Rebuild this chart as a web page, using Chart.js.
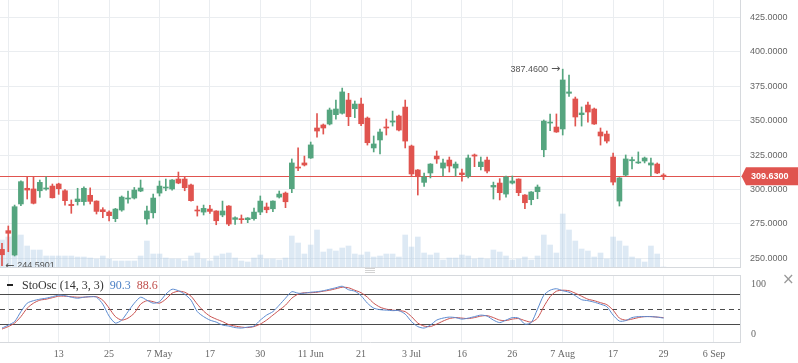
<!DOCTYPE html>
<html><head><meta charset="utf-8">
<script src="https://cdn.jsdelivr.net/npm/chart.js@4/dist/chart.umd.min.js"></script>
<style>
html,body{margin:0;padding:0;background:#fff;width:798px;height:363px;overflow:hidden;}
body{position:relative;}
#c1{position:absolute;left:0;top:0;}
#c2{position:absolute;left:0;top:270px;}
.lgline{position:absolute;left:7px;top:284px;width:6px;height:2px;background:#222;}
.lg{position:absolute;left:22px;top:277px;font:12px "Liberation Serif",serif;color:#333;white-space:nowrap;line-height:16px;}
.lg .k{color:#4a7fc4;margin-left:6px;}
.lg .d{color:#c0504d;margin-left:6px;}
.hd{position:absolute;left:365px;width:10px;height:1px;background:#d3d3d3;}
.cls{position:absolute;left:782px;top:272px;font:15px "DejaVu Sans",sans-serif;color:#999;line-height:15px;}
</style></head><body>
<canvas id="c1" width="798" height="268"></canvas>
<canvas id="c2" width="798" height="93"></canvas>
<div class="hd" style="top:268px"></div>
<div class="hd" style="top:270px"></div>
<div class="hd" style="top:272px"></div>
<div class="lgline"></div>
<div class="lg">StoOsc (14, 3, 3)<span class="k">90.3</span><span class="d">88.6</span></div>
<div class="cls">×</div>
<script>
// x tick positions (bar index) and their labels
const tickIdx = [1,9,17,25,33,41,49,57,65,73,81,89,97,105,113];
const tickLabels = ['','13','25','7 May','17','30','11 Jun','21','3 Jul','16','26','7 Aug','17','29','6 Sep'];
const priceTicks = [250,275,300,325,350,375,400,425];
const stochTicks = [0,100];
const stochLevels = [20,50,80];

const open = [256.5,270.1,252.4,289.5,300.9,300.4,299.1,300.4,302.5,304.0,299.1,289.2,291.2,291.2,295.8,291.6,285.3,283.6,
278.8,285.1,293.1,293.8,298.9,278.6,283.1,297.4,301.1,300.4,307.6,307.6,303.3,285.1,283.6,285.8,284.4,281.5,
288.0,278.3,278.8,278.1,278.8,283.6,287.3,286.0,294.5,297.4,300.6,316.3,319.3,322.9,344.7,346.9,347.6,
354.4,355.4,365.0,358.7,362.1,351.9,330.2,336.0,345.4,349.0,353.4,359.9,331.6,314.2,305.2,312.0,324.3,
315.6,321.4,315.6,312.0,309.6,325.1,316.6,321.4,301.8,304.7,296.7,304.7,307.6,296.0,292.6,298.4,328.9,348.3,
345.4,344.0,369.9,365.8,354.4,361.4,358.5,341.8,340.3,323.6,291.6,310.5,320.9,319.3,320.7,317.8,318.5,310.5];
const high = [260.9,273.5,288.7,306.4,309.3,309.3,306.9,309.3,304.0,304.6,300.0,292.4,300.9,302.0,301.2,291.8,286.8,284.5,
286.3,295.3,298.9,301.5,306.9,288.0,296.7,306.2,307.6,307.3,312.7,309.1,304.0,288.0,288.7,288.5,284.6,291.6,
288.3,280.2,281.5,279.6,286.6,295.3,290.2,291.8,298.9,298.2,322.2,330.2,324.3,334.5,355.1,347.6,359.2,
365.0,373.7,369.9,364.3,366.5,352.7,338.9,344.0,351.2,357.0,354.1,365.0,332.3,314.5,312.0,318.8,328.0,
322.2,323.6,320.0,314.9,325.1,325.8,323.6,323.6,305.4,307.9,309.8,309.8,307.8,296.3,298.5,303.3,350.5,354.9,
354.9,387.46,383.2,367.2,360.0,363.6,359.2,344.7,342.5,326.5,308.7,325.1,323.6,327.3,323.6,322.9,319.3,311.5];
const low = [244.5901,254.8,251.7,288.2,293.1,289.5,294.3,299.6,293.8,296.5,288.7,282.7,288.7,288.7,289.5,282.2,279.5,277.1,
276.6,284.2,290.0,293.1,298.4,274.9,279.3,295.3,299.1,299.6,304.2,299.1,291.5,280.7,281.5,282.7,274.4,280.2,
273.7,274.7,275.4,275.9,277.8,281.7,283.1,283.9,293.8,286.8,297.7,313.7,317.1,322.6,338.1,340.3,346.9,
351.2,354.8,346.4,352.2,346.4,332.3,327.3,325.8,339.6,346.1,342.5,330.2,309.8,296.0,302.3,308.4,319.0,
309.8,312.7,309.8,306.1,308.4,316.6,314.2,312.0,293.1,292.4,294.5,304.0,295.5,286.0,288.9,293.3,323.8,342.8,
341.5,339.6,367.7,346.1,346.1,349.0,347.3,332.3,333.8,303.3,288.0,309.8,314.9,318.9,319.3,310.1,311.5,307.2];
const close = [252.6,268.2,287.5,305.7,299.6,290.0,305.2,301.1,294.0,300.6,291.9,288.3,293.1,300.9,291.4,284.1,283.9,281.0,
285.8,294.5,293.8,299.6,301.1,284.4,293.8,302.5,301.8,306.9,304.7,301.3,291.9,284.4,286.3,284.1,277.3,284.4,
274.9,279.5,278.1,279.3,283.6,291.6,285.3,291.6,296.7,291.1,319.3,315.6,317.8,332.4,342.5,344.7,357.8,
358.5,370.9,352.9,362.1,347.8,334.0,333.1,341.8,344.7,349.8,343.2,335.2,311.3,309.3,309.1,318.5,322.2,
319.3,317.1,318.5,310.8,322.9,324.3,320.0,313.4,303.0,297.7,309.1,306.2,297.7,290.4,298.2,301.8,349.7,349.0,
341.8,379.6,370.9,352.7,355.6,356.3,347.6,338.9,335.2,305.4,308.4,322.2,321.7,320.0,322.9,319.3,312.0,309.63];
const volume = [27,30,31,32,21,17,17,11,11,11,11,11,10,10,9,8,11,8,
6,6,6,6,11,26,13,13,9,8,8,6,11,14,8,6,11,13,
14,9,6,5,9,12,8,8,7,9,31,24,13,22,37,15,18,
16,19,21,13,12,15,10,11,13,13,10,32,20,30,14,12,14,
7,9,9,12,11,8,9,8,17,15,11,7,8,10,7,11,32,22,
14,53,37,26,18,16,10,14,8,30,26,21,10,8,5,21,13,0];
const stochK = [12,18,25,45,62,67,70,72,75,78,77,74,72,74,75,74,60,36,
22,28,45,62,74,68,62,65,80,90,87,80,68,45,35,28,24,18,
16,13,12,14,16,28,38,45,58,72,85,82,82,84,85,87,90,
93,96,89,86,77,62,52,49,48,47,47,40,25,15,12,18,28,
32,34,33,30,32,35,38,36,28,23,28,33,32,20,23,50,78,88,
91,87,84,77,69,67,64,60,55,38,26,27,33,35,35,35,34,32];
const stochD = [10,15,22,35,52,62,68,70,73,76,76,75,74,74,75,75,68,52,
35,28,32,42,60,67,65,62,70,82,86,84,76,60,46,36,30,25,
19,16,14,13,15,20,28,38,48,58,72,80,83,83,84,86,88,
91,94,93,88,83,74,62,54,50,48,47,45,35,22,16,15,20,
26,31,33,32,31,33,36,37,33,28,27,30,31,27,24,32,55,75,
86,88,87,82,76,70,67,63,59,48,32,28,30,33,35,35,34,33];

const X_MIN = -0.317, X_MAX = 117.14;
const UP = '#55a57f', DN = '#e0544f';
const candleColor = close.map((c,i)=> c >= open[i] ? UP : DN);
const GRID = '#eaedf0', BORDER = '#d6d9dd';

function setTicks(list){ return s => { s.ticks = list.map(v=>({value:v})); }; }
function noPad(s){ s.paddingTop=0; s.paddingBottom=0; s.paddingLeft=0; s.paddingRight=0; }

const priceDecor = {
  id:'priceDecor',
  beforeDatasetsDraw(chart){
    const {ctx, chartArea:a, scales:{y}} = chart;
    const py = Math.round(y.getPixelForValue(close[close.length-1])) + 0.5;
    ctx.save();
    ctx.strokeStyle = '#e0544f'; ctx.lineWidth = 1;
    ctx.beginPath(); ctx.moveTo(a.left, py); ctx.lineTo(a.right, py); ctx.stroke();
    ctx.restore();
  },
  afterDatasetsDraw(chart){
    const {ctx, chartArea:a, scales:{x,y}} = chart;
    const hiV = Math.max(...high), hiI = high.indexOf(hiV);
    const loV = Math.min(...low), loI = low.indexOf(loV);
    const numFont = '9px "Liberation Sans", sans-serif';
    const arrFont = '11px "DejaVu Sans", sans-serif';
    ctx.save();
    ctx.fillStyle = '#555'; ctx.textBaseline = 'middle';
    // high marker: "387.4600 →"
    const hx = x.getPixelForValue(hiI) - 2.5, hy = y.getPixelForValue(hiV);
    ctx.textAlign = 'right';
    ctx.font = arrFont; ctx.fillText('\u2192', hx, hy);
    const aw = ctx.measureText('\u2192').width;
    ctx.font = numFont; ctx.fillText(hiV.toFixed(4), hx - aw - 3, hy);
    // low marker: "← 244.5901" (clipped by the pane)
    ctx.save();
    ctx.beginPath(); ctx.rect(a.left, a.top, a.right - a.left, a.bottom - a.top); ctx.clip();
    const lx = x.getPixelForValue(loI) + 3, ly = y.getPixelForValue(loV);
    ctx.textAlign = 'left';
    ctx.font = arrFont; ctx.fillText('\u2190', lx, ly);
    const bw = ctx.measureText('\u2190').width;
    ctx.font = numFont; ctx.fillText(loV.toFixed(4), lx + bw + 3, ly);
    ctx.restore();
    // last price tag
    const last = close[close.length-1];
    const py = y.getPixelForValue(last);
    ctx.fillStyle = '#e0544f';
    ctx.beginPath();
    ctx.moveTo(a.right + 1.5, py);
    ctx.lineTo(a.right + 6, py - 9);
    ctx.lineTo(798, py - 9);
    ctx.lineTo(798, py + 9);
    ctx.lineTo(a.right + 6, py + 9);
    ctx.closePath(); ctx.fill();
    ctx.fillStyle = '#fff'; ctx.textAlign = 'left';
    ctx.font = 'bold 9px "Liberation Sans", sans-serif';
    ctx.fillText(last.toFixed(4), a.right + 11, py + 0.5);
    ctx.restore();
  }
};

new Chart(document.getElementById('c1'), {
  type:'bar',
  data:{datasets:[
    {data: volume.map((v,i)=>({x:i,y:v})), yAxisID:'yv', backgroundColor:'rgba(170,200,228,0.4)', barThickness:5, grouped:false, order:3},
    {data: high.map((h,i)=>({x:i,y:[low[i],h]})), yAxisID:'y', backgroundColor:candleColor, barThickness:1, grouped:false, order:2},
    {data: open.map((o,i)=>({x:i,y:[o,close[i]]})), yAxisID:'y', backgroundColor:candleColor, barThickness:5, grouped:false, minBarLength:1, order:1}
  ]},
  options:{
    responsive:false, animation:false, layout:{padding:0},
    plugins:{legend:{display:false}, tooltip:{enabled:false}},
    scales:{
      x:{type:'linear', min:X_MIN, max:X_MAX, offset:false,
         grid:{offset:false, color:GRID, drawTicks:false}, border:{color:BORDER},
         ticks:{display:false}, afterBuildTicks:setTicks(tickIdx),
         afterFit:s=>{s.height=1; noPad(s);}},
      y:{position:'right', min:243.7, max:437.7,
         grid:{color:GRID, drawTicks:false}, border:{color:BORDER},
         ticks:{padding:10, color:'#666', font:{family:'"Liberation Sans", sans-serif', size:9}, callback:v=>Number(v).toFixed(4)},
         afterBuildTicks:setTicks(priceTicks),
         afterFit:s=>{s.width=58; noPad(s);}},
      yv:{display:false, min:0, max:Math.max(...volume)/0.1985}
    }
  },
  plugins:[priceDecor]
});

const stochDecor = {
  id:'stochDecor',
  beforeDatasetsDraw(chart){
    const {ctx, chartArea:a, scales:{y}} = chart;
    ctx.save();
    ctx.strokeStyle = BORDER; ctx.lineWidth = 1;
    ctx.beginPath(); ctx.moveTo(a.left, a.top + 0.5); ctx.lineTo(a.right, a.top + 0.5); ctx.stroke();
    ctx.strokeStyle = '#4a4a4a';
    stochLevels.forEach(l=>{
      const py = Math.round(y.getPixelForValue(l)) + 0.5;
      ctx.setLineDash(l === 50 ? [5,4] : []);
      ctx.beginPath(); ctx.moveTo(a.left, py); ctx.lineTo(a.right, py); ctx.stroke();
    });
    ctx.restore();
  }
};

new Chart(document.getElementById('c2'), {
  type:'line',
  data:{datasets:[
    {data: stochK.map((v,i)=>({x:i,y:v})), borderColor:'#5b8ad0', borderWidth:1, pointRadius:0, tension:0.25},
    {data: stochD.map((v,i)=>({x:i,y:v})), borderColor:'#c9514f', borderWidth:1, pointRadius:0, tension:0.25}
  ]},
  options:{
    responsive:false, animation:false, layout:{padding:{top:5, left:0, right:0, bottom:0}},
    plugins:{legend:{display:false}, tooltip:{enabled:false}},
    scales:{
      x:{type:'linear', min:X_MIN, max:X_MAX, offset:false,
         grid:{color:GRID, drawTicks:false}, border:{color:BORDER},
         ticks:{autoSkip:false, maxRotation:0, padding:6, color:'#666',
                font:{family:'"Liberation Serif", serif', size:10},
                callback:v=>{const k = tickIdx.indexOf(v); return k < 0 ? '' : tickLabels[k];}},
         afterBuildTicks:setTicks(tickIdx),
         afterFit:s=>{s.height=21; noPad(s);}},
      y:{position:'right', min:-16, max:118.6,
         grid:{color:'rgba(0,0,0,0)', drawTicks:false}, border:{color:BORDER},
         ticks:{padding:11, color:'#666', font:{family:'"Liberation Serif", serif', size:10}},
         afterBuildTicks:setTicks(stochTicks),
         afterFit:s=>{s.width=58; noPad(s);}}
    }
  },
  plugins:[stochDecor]
});
</script>
</body></html>
